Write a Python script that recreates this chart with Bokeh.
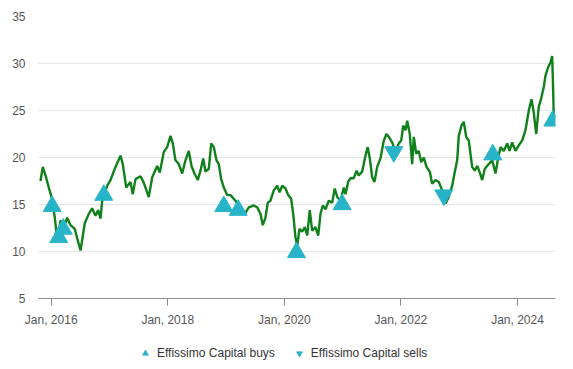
from bokeh.plotting import figure
from bokeh.layouts import column
from bokeh.models import FixedTicker, Legend, LegendItem, Range1d, ColumnDataSource
from bokeh.embed import file_html
from bokeh.resources import INLINE

# Share price (dates as decimal years)
price_dates = [
    2015.816, 2015.856, 2015.902, 2015.959, 2016.005, 2016.062, 2016.108, 2016.160, 2016.211,
    2016.274, 2016.331, 2016.405, 2016.446, 2016.503, 2016.576, 2016.645, 2016.703, 2016.760,
    2016.806, 2016.846, 2016.875, 2016.961, 2017.017, 2017.103, 2017.189, 2017.228, 2017.287,
    2017.360, 2017.400, 2017.446, 2017.532, 2017.589, 2017.674, 2017.733, 2017.818, 2017.863,
    2017.932, 2017.990, 2018.047, 2018.086, 2018.132, 2018.189, 2018.247, 2018.304, 2018.361,
    2018.407, 2018.458, 2018.515, 2018.561, 2018.608, 2018.647, 2018.704, 2018.745, 2018.790,
    2018.836, 2018.875, 2018.916, 2018.961, 2019.019, 2019.076, 2019.162, 2019.248, 2019.333,
    2019.390, 2019.476, 2019.534, 2019.591, 2019.630, 2019.676, 2019.716, 2019.762, 2019.819,
    2019.877, 2019.917, 2019.963, 2020.020, 2020.066, 2020.117, 2020.152, 2020.191, 2020.220,
    2020.260, 2020.306, 2020.351, 2020.392, 2020.436, 2020.478, 2020.534, 2020.581, 2020.620,
    2020.659, 2020.706, 2020.762, 2020.821, 2020.865, 2020.907, 2020.963, 2021.020, 2021.049,
    2021.095, 2021.135, 2021.191, 2021.238, 2021.277, 2021.335, 2021.392, 2021.431, 2021.466,
    2021.507, 2021.546, 2021.593, 2021.649, 2021.706, 2021.752, 2021.792, 2021.850, 2021.907,
    2021.963, 2022.005, 2022.039, 2022.078, 2022.108, 2022.152, 2022.193, 2022.221, 2022.262,
    2022.306, 2022.348, 2022.392, 2022.439, 2022.495, 2022.536, 2022.593, 2022.650, 2022.708,
    2022.765, 2022.821, 2022.879, 2022.919, 2022.965, 2022.993, 2023.039, 2023.078, 2023.120,
    2023.164, 2023.193, 2023.222, 2023.267, 2023.308, 2023.348, 2023.394, 2023.439, 2023.507,
    2023.566, 2023.622, 2023.669, 2023.708, 2023.765, 2023.823, 2023.863, 2023.909, 2023.966,
    2024.022, 2024.080, 2024.137, 2024.194, 2024.240, 2024.279, 2024.321, 2024.365, 2024.411,
    2024.451, 2024.480, 2024.526, 2024.566, 2024.595, 2024.612, 2024.622,
]
price_values = [
    17.5, 19.0, 18.1, 16.8, 15.8, 13.6, 11.0, 13.3, 12.5,
    13.6, 12.8, 12.4, 11.4, 10.1, 13.0, 14.0, 14.6, 13.8,
    14.4, 13.5, 15.4, 17.0, 17.6, 19.0, 20.2, 19.3, 16.8,
    17.4, 16.1, 17.7, 18.0, 17.3, 15.8, 17.9, 19.1, 18.4,
    20.6, 21.1, 22.3, 21.5, 19.7, 19.3, 18.3, 19.7, 20.7,
    19.1, 18.3, 17.6, 18.6, 19.9, 18.5, 18.8, 21.5, 21.1,
    19.7, 19.3, 17.7, 16.8, 16.0, 16.0, 15.4, 14.7, 14.1,
    14.7, 14.9, 14.7, 14.0, 12.8, 13.6, 15.2, 15.4, 16.5,
    17.0, 16.3, 17.0, 16.7, 16.0, 15.6, 14.0, 11.5, 10.6,
    12.4, 12.1, 12.6, 11.7, 14.4, 12.2, 12.6, 11.7, 14.0,
    14.9, 14.5, 15.4, 15.2, 16.7, 15.8, 15.4, 16.8, 16.1,
    17.4, 17.8, 17.8, 18.6, 18.1, 18.5, 20.2, 21.1, 19.9,
    17.9, 17.4, 19.0, 19.9, 21.8, 22.5, 22.2, 21.6, 20.6,
    21.5, 21.8, 23.4, 22.9, 23.9, 22.5, 19.3, 22.2, 20.4,
    20.7, 19.5, 20.0, 19.0, 18.5, 17.2, 17.6, 17.4, 16.5,
    15.1, 15.8, 17.0, 18.3, 19.7, 22.3, 23.4, 23.8, 22.2,
    21.8, 20.4, 19.0, 18.6, 19.1, 18.5, 17.6, 18.8, 19.3,
    19.7, 18.3, 20.0, 21.1, 20.7, 21.5, 20.7, 21.6, 20.7,
    21.3, 21.8, 22.9, 25.0, 26.2, 24.8, 22.5, 25.4, 26.4,
    27.5, 28.7, 29.6, 30.1, 30.8, 27.1, 24.3,
]

buy_dates = [2016.017, 2016.130, 2016.206, 2016.902, 2018.961, 2019.208,
             2020.208, 2020.992, 2023.576, 2024.605]
buy_values = [14.8, 11.5, 12.4, 16.0, 14.8, 14.4, 9.9, 15.0, 20.3, 23.9]

sell_dates = [2021.878, 2022.735]
sell_values = [20.6, 16.0]

x_tick_years = [2016, 2018, 2020, 2022, 2024]
x_tick_labels = ["Jan, 2016", "Jan, 2018", "Jan, 2020", "Jan, 2022", "Jan, 2024"]
y_ticks = [5, 10, 15, 20, 25, 30, 35]
legend_labels = ["Effissimo Capital buys", "Effissimo Capital sells"]

FONT = "Liberation Sans"
LINE_COLOR = "#10801a"
MARK_COLOR = "#27b4c8"

p = figure(width=573, height=335, output_backend="svg", toolbar_location=None,
           x_range=Range1d(2015.782, 2024.652), y_range=Range1d(5, 35),
           min_border_left=38, min_border_right=18, min_border_top=16,
           min_border_bottom=37)
p.outline_line_color = None
p.background_fill_color = "white"
p.border_fill_color = "white"

p.line(price_dates, price_values, line_color=LINE_COLOR, line_width=2.4)

buy_src = ColumnDataSource(dict(x=buy_dates, y=buy_values))
sell_src = ColumnDataSource(dict(x=sell_dates, y=sell_values))
p.scatter("x", "y", source=buy_src, marker="triangle", size=18,
          fill_color=MARK_COLOR, line_color=MARK_COLOR)
p.scatter("x", "y", source=sell_src, marker="inverted_triangle", size=18,
          fill_color=MARK_COLOR, line_color=MARK_COLOR)

# x axis
xa = p.xaxis[0]
xa.ticker = FixedTicker(ticks=x_tick_years)
xa.major_label_overrides = {y: l for y, l in zip(x_tick_years, x_tick_labels)}
xa.axis_line_color = "#8a8a8a"
xa.major_tick_line_color = "#8a8a8a"
xa.major_tick_out = 7
xa.major_tick_in = 0
xa.minor_tick_line_color = None
xa.major_label_standoff = 7
xa.major_label_text_font = FONT
xa.major_label_text_font_size = "12px"
xa.major_label_text_color = "#555555"

# y axis
ya = p.yaxis[0]
ya.ticker = FixedTicker(ticks=y_ticks)
ya.axis_line_color = None
ya.major_tick_line_color = None
ya.minor_tick_line_color = None
ya.major_tick_out = 0
ya.major_tick_in = 0
ya.major_label_standoff = 13
ya.major_label_text_font = FONT
ya.major_label_text_font_size = "12px"
ya.major_label_text_color = "#555555"

p.xgrid.grid_line_color = None
p.ygrid.grid_line_color = "#e6e6e6"
p.ygrid.grid_line_width = 1

# legend strip below the chart
lf = figure(width=573, height=34, output_backend="svg", toolbar_location=None,
            x_range=Range1d(0, 1), y_range=Range1d(0, 1),
            x_axis_location=None, y_axis_location=None,
            min_border=0)
lf.outline_line_color = None
lf.xgrid.visible = False
lf.ygrid.visible = False
lb = lf.scatter("x", "y", source=buy_src, marker="triangle", size=18,
                fill_color=MARK_COLOR, line_color=MARK_COLOR)
ls = lf.scatter("x", "y", source=sell_src, marker="inverted_triangle", size=18,
                fill_color=MARK_COLOR, line_color=MARK_COLOR)
legend = Legend(items=[LegendItem(label=legend_labels[0], renderers=[lb]),
                       LegendItem(label=legend_labels[1], renderers=[ls])],
                orientation="horizontal", location=(99, 9),
                border_line_color=None, background_fill_alpha=0,
                label_text_font=FONT, label_text_font_size="12px",
                label_text_color="#333333", glyph_width=16, glyph_height=14,
                label_height=14, label_standoff=4, spacing=16, padding=0, margin=0)
lf.add_layout(legend, "center")

layout = column(p, lf, spacing=0)
open("out.html", "w").write(file_html(layout, INLINE))
